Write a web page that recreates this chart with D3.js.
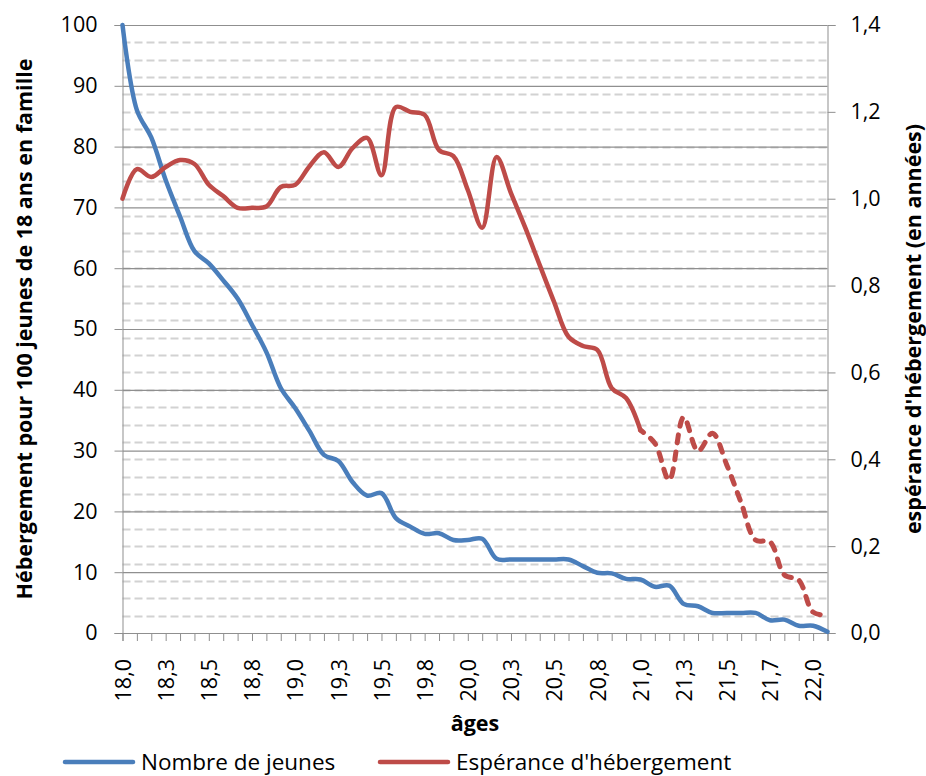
<!DOCTYPE html>
<html>
<head>
<meta charset="utf-8">
<script src="https://cdn.jsdelivr.net/npm/d3@7"></script>
<style>
body { margin: 0; background: #fff; }
svg { display: block; }
text { font-family: "Open Sans", "Liberation Sans", sans-serif; fill: #000; }
.title { font-weight: bold; }
</style>
</head>
<body>
<svg id="chart" width="926" height="776"></svg>
<script>
// ages, one per month (Excel rounds them to one decimal)
var ages = [
    "18,0","18,1","18,2","18,3","18,3","18,4","18,5","18,6","18,7","18,8","18,8","18,9",
    "19,0","19,1","19,2","19,3","19,3","19,4","19,5","19,6","19,7","19,8","19,8","19,9",
    "20,0","20,1","20,2","20,3","20,3","20,4","20,5","20,6","20,7","20,8","20,8","20,9",
    "21,0","21,1","21,2","21,3","21,3","21,4","21,5","21,6","21,7","21,7","21,8","21,9",
    "22,0","22,1"
];

// Nombre de jeunes (left axis)
var jeunes = [
    100, 86, 81.5, 74.5, 68.5, 62.8, 60.8, 58, 55, 50.7, 46.2, 40.3,
    37, 33.2, 29.3, 28.3, 24.8, 22.6, 23.0, 18.9, 17.5, 16.3, 16.4, 15.3,
    15.3, 15.5, 12.2, 12.1, 12.1, 12.1, 12.1, 12.1, 11.0, 9.9, 9.8, 8.9,
    8.8, 7.6, 7.8, 4.8, 4.4, 3.3, 3.3, 3.3, 3.3, 2.1, 2.2, 1.2,
    1.2, 0.2
];

// Espérance d'hébergement (right axis, years)
var esperance = [
    1.00, 1.068, 1.05, 1.073, 1.089, 1.08, 1.032, 1.006, 0.979, 0.979, 0.982, 1.027,
    1.032, 1.075, 1.107, 1.073, 1.117, 1.14, 1.054, 1.211, 1.20, 1.193, 1.112, 1.098,
    1.02, 0.933, 1.096, 1.013, 0.933, 0.847, 0.762, 0.682, 0.661, 0.652, 0.564, 0.541,
    0.467, 0.437, 0.352, 0.497, 0.419, 0.46, 0.387, 0.30, 0.214, 0.21, 0.134, 0.122,
    0.048, 0.041
];

// last point of the solid part, the rest is drawn dashed
var solidEnd = 36;

var leftTicks = [0, 10, 20, 30, 40, 50, 60, 70, 80, 90, 100];
var rightTicks = [0, 0.2, 0.4, 0.6, 0.8, 1.0, 1.2, 1.4];
var labelStep = 3;

var blue = "#4a7ebb";
var red = "#be4b48";

var svg = d3.select("#chart");

var x = d3.scaleLinear().domain([0, ages.length - 1]).range([122.5, 827.5]);
var yl = d3.scaleLinear().domain([0, 100]).range([633, 25]);
var yr = d3.scaleLinear().domain([0, 1.4]).range([633, 25]);

function fmt(v){
    return d3.format(".1f")(v).replace(".", ",");
}

// dashed minor gridlines (right axis, every 0.04)
var minor = d3.range(1, 35).map(function(k){ return k * 0.04; });
svg.append("g").selectAll("line")
    .data(minor)
    .enter().append("line")
    .attr("x1", x(0)).attr("x2", x(ages.length - 1))
    .attr("y1", function(d){ return Math.round(yr(d)) + 0.5; })
    .attr("y2", function(d){ return Math.round(yr(d)) + 0.5; })
    .attr("stroke", "#d2d2d2")
    .attr("stroke-width", 2)
    .attr("stroke-dasharray", "8,4");

// solid major gridlines (left axis)
var gl = svg.append("g")
    .attr("transform", "translate(" + x(0) + ",0)")
    .call(d3.axisLeft(yl).tickValues(leftTicks).tickSize(-(x(ages.length - 1) - x(0))).tickFormat(""));
gl.select(".domain").remove();
gl.selectAll("line").attr("stroke", "#8f8f8f").attr("stroke-width", 1.2);

// left axis
var ax = svg.append("g")
    .attr("transform", "translate(" + x(0) + ",0)")
    .call(d3.axisLeft(yl).tickValues(leftTicks).tickSize(8).tickPadding(17));
ax.select(".domain").attr("stroke", "#8f8f8f");
ax.selectAll("line").attr("stroke", "#8f8f8f");
ax.selectAll("text").style("font-size", "21.5px").attr("font-family", null);

// right axis
var ar = svg.append("g")
    .attr("transform", "translate(" + x(ages.length - 1) + ",0)")
    .call(d3.axisRight(yr).tickValues(rightTicks).tickSize(8).tickPadding(15).tickFormat(fmt));
ar.select(".domain").attr("stroke", "#8f8f8f");
ar.selectAll("line").attr("stroke", "#8f8f8f");
ar.selectAll("text").style("font-size", "21.5px").attr("font-family", null);

// x axis, a tick at every month, a label every 3 months
var axx = svg.append("g")
    .attr("transform", "translate(0," + yl(0) + ")")
    .call(d3.axisBottom(x).tickValues(d3.range(ages.length)).tickSize(8)
        .tickFormat(function(i){ return i % labelStep == 0 ? ages[i] : ""; }));
axx.select(".domain").attr("stroke", "#8f8f8f");
axx.selectAll("line").attr("stroke", "#8f8f8f");
axx.selectAll("text")
    .style("font-size", "21.5px").attr("font-family", null)
    .attr("text-anchor", "end")
    .attr("transform", "rotate(-90)")
    .attr("x", -26).attr("y", 0).attr("dy", "0.36em");

// lines
var line = function(ys){
    return d3.line()
        .x(function(d){ return x(d[0]); })
        .y(function(d){ return ys(d[1]); })
        .curve(d3.curveCatmullRom.alpha(0.5));
};

var blueData = jeunes.map(function(v, i){ return [i, v]; });
var redData = esperance.map(function(v, i){ return [i, v]; });

svg.append("path")
    .datum(blueData)
    .attr("d", line(yl))
    .attr("fill", "none").attr("stroke", blue)
    .attr("stroke-width", 4.5).attr("stroke-linejoin", "round").attr("stroke-linecap", "round");

svg.append("path")
    .datum(redData.slice(0, solidEnd + 1))
    .attr("d", line(yr))
    .attr("fill", "none").attr("stroke", red)
    .attr("stroke-width", 4.5).attr("stroke-linejoin", "round").attr("stroke-linecap", "round");

svg.append("path")
    .datum(redData.slice(solidEnd))
    .attr("d", line(yr))
    .attr("fill", "none").attr("stroke", red)
    .attr("stroke-width", 5).attr("stroke-linecap", "round")
    .attr("stroke-dasharray", "8,9").attr("stroke-dashoffset", -13);

// axis titles
var midY = (yl(0) + yl(100)) / 2;
svg.append("text").attr("class", "title")
    .attr("transform", "translate(32," + midY + ") rotate(-90)")
    .attr("text-anchor", "middle").style("font-size", "21.5px")
    .text("Hébergement pour 100 jeunes de 18 ans en famille");

svg.append("text").attr("class", "title")
    .attr("transform", "translate(921," + midY + ") rotate(-90)")
    .attr("text-anchor", "middle").style("font-size", "21.5px")
    .text("espérance d'hébergement (en années)");

svg.append("text").attr("class", "title")
    .attr("x", (x(0) + x(ages.length - 1)) / 2).attr("y", 731)
    .attr("text-anchor", "middle").style("font-size", "21.5px")
    .text("âges");

// legend
var legend = [
    {name: "Nombre de jeunes", color: blue, x: 65},
    {name: "Espérance d'hébergement", color: red, x: 380}
];
var lg = svg.append("g").selectAll("g").data(legend).enter().append("g");
lg.append("line")
    .attr("x1", function(d){ return d.x; })
    .attr("x2", function(d){ return d.x + 68; })
    .attr("y1", 762).attr("y2", 762)
    .attr("stroke", function(d){ return d.color; })
    .attr("stroke-width", 4.5).attr("stroke-linecap", "round");
lg.append("text")
    .attr("x", function(d){ return d.x + 76; })
    .attr("y", 770)
    .style("font-size", "22.5px")
    .text(function(d){ return d.name; });
</script>
</body>
</html>
